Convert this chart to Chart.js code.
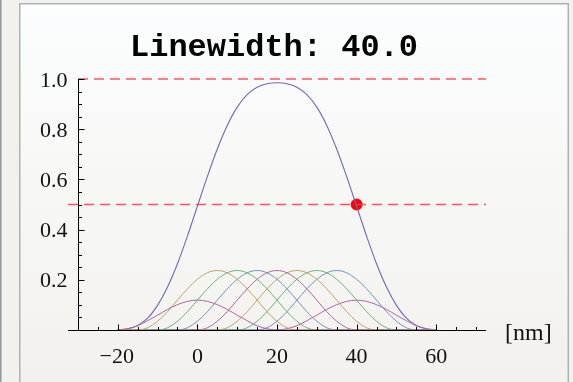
<!DOCTYPE html>
<html>
<head>
<meta charset="utf-8">
<script src="https://cdn.jsdelivr.net/npm/chart.js@4/dist/chart.umd.min.js"></script>
<style>
  html, body { margin: 0; padding: 0; background: #f2f1ed; }
  #wrap { width: 573px; height: 382px; position: relative; }
</style>
</head>
<body>
<div id="wrap"><canvas id="c" width="573" height="382"></canvas></div>
<script>
// ---------------- data ----------------
const titleText = "Linewidth: 40.0";
const xUnitLabel = "[nm]";

// sample positions (nm)
const xGrid = [-20,-17.5,-15,-12.5,-10,-7.5,-5,-2.5,0,2.5,5,7.5,10,12.5,15,17.5,20,
               22.5,25,27.5,30,32.5,35,37.5,40,42.5,45,47.5,50,52.5,55,57.5,60];

// total (normalized) line profile
const sumCurve = [0,0.005,0.018,0.047,0.098,0.171,0.264,0.374,0.493,0.611,0.721,0.815,0.888,0.938,0.967,0.981,0.985,
                  0.981,0.967,0.938,0.888,0.815,0.721,0.611,0.493,0.374,0.264,0.171,0.098,0.047,0.018,0.005,0];

// individual components (centres 0,5,...,40 nm)
const comp0  = [0,0.005,0.017,0.037,0.059,0.082,0.101,0.114,0.119,0.114,0.101,0.082,0.059,0.037,0.017,0.005,0,
                0,0,0,0,0,0,0,0,0,0,0,0,0,0,0,0];
const comp5  = [0,0,0,0.009,0.035,0.073,0.119,0.164,0.202,0.228,0.237,0.228,0.202,0.164,0.119,0.073,0.035,0.009,0,
                0,0,0,0,0,0,0,0,0,0,0,0,0,0];
const comp10 = [0,0,0,0,0,0.009,0.035,0.073,0.119,0.164,0.202,0.228,0.237,0.228,0.202,0.164,0.119,0.073,0.035,0.009,0,
                0,0,0,0,0,0,0,0,0,0,0,0];
const comp15 = [0,0,0,0,0,0,0,0.009,0.035,0.073,0.119,0.164,0.202,0.228,0.237,0.228,0.202,0.164,0.119,0.073,0.035,0.009,0,
                0,0,0,0,0,0,0,0,0,0];
const comp20 = [0,0,0,0,0,0,0,0,0,0.009,0.035,0.073,0.119,0.164,0.202,0.228,0.237,0.228,0.202,0.164,0.119,0.073,0.035,0.009,0,
                0,0,0,0,0,0,0,0];
const comp25 = [0,0,0,0,0,0,0,0,0,0,0,0.009,0.035,0.073,0.119,0.164,0.202,0.228,0.237,0.228,0.202,0.164,0.119,0.073,0.035,0.009,0,
                0,0,0,0,0,0];
const comp30 = [0,0,0,0,0,0,0,0,0,0,0,0,0,0.009,0.035,0.073,0.119,0.164,0.202,0.228,0.237,0.228,0.202,0.164,0.119,0.073,0.035,0.009,0,
                0,0,0,0];
const comp35 = [0,0,0,0,0,0,0,0,0,0,0,0,0,0,0,0.009,0.035,0.073,0.119,0.164,0.202,0.228,0.237,0.228,0.202,0.164,0.119,0.073,0.035,0.009,0,
                0,0];
const comp40 = [0,0,0,0,0,0,0,0,0,0,0,0,0,0,0,0,
                0,0.005,0.017,0.037,0.059,0.082,0.101,0.114,0.119,0.114,0.101,0.082,0.059,0.037,0.017,0.005,0];

// reference levels and marker
const levelValues = [1.0, 0.5];
const levelStart = [-30, -32.5];
const levelEnd = [72.5, 72.5];
const markerX = [40];
const markerY = [0.5];

// axes
const xMajorTicks = [-20, 0, 20, 40, 60];
const xTickLabels = ["\u221220", "0", "20", "40", "60"];
const xMinorTicks = [-25,-15,-10,-5,5,10,15,25,30,35,45,50,55,65,70];
const yMajorTicks = [0.2, 0.4, 0.6, 0.8, 1.0];
const yTickLabels = ["0.2", "0.4", "0.6", "0.8", "1.0"];
const yMinorTicks = [0.05,0.1,0.15,0.25,0.3,0.35,0.45,0.5,0.55,0.65,0.7,0.75,0.85,0.9,0.95];
const yAxisAt = -30;

// ---------------- styles ----------------
const compSeries = [comp0, comp5, comp10, comp15, comp20, comp25, comp30, comp35, comp40];
const compColors = ["#b065a8", "#c0a468", "#6ab47a", "#7092c4",
                    "#b065a8", "#c0a468", "#6ab47a", "#7092c4", "#b065a8"];

function pts(ys) { return xGrid.map((x, i) => ({ x: x, y: ys[i] })); }

const datasets = [];
compSeries.forEach((s, i) => {
  datasets.push({
    data: pts(s), borderColor: compColors[i], borderWidth: 1,
    pointRadius: 0, cubicInterpolationMode: "monotone", fill: false, clip: false
  });
});
datasets.push({
  data: pts(sumCurve), borderColor: "#6c6cbc", borderWidth: 1.1,
  pointRadius: 0, cubicInterpolationMode: "monotone", fill: false, clip: false
});
levelValues.forEach((v, i) => {
  datasets.push({
    data: [{ x: levelStart[i], y: v }, { x: levelEnd[i], y: v }], borderColor: "rgba(250,60,60,0.85)",
    borderWidth: 1.6, borderDash: [10, 6], pointRadius: 0, fill: false, clip: false
  });
});
datasets.push({
  type: "scatter",
  data: markerX.map((x, i) => ({ x: x, y: markerY[i] })),
  backgroundColor: "#ff0000", borderColor: "#ff0000", pointRadius: 5.5, clip: false
});

const decor = {
  id: "decor",
  beforeDraw(chart) {
    const ctx = chart.ctx;
    ctx.save();
    ctx.fillStyle = "#f2f1ed";
    ctx.fillRect(0, 0, 573, 382);
    ctx.fillStyle = "#8e999e";
    ctx.fillRect(0, 0, 1.5, 382);
    const g = ctx.createLinearGradient(0, 3, 0, 382);
    g.addColorStop(0, "#fcfdfe");
    g.addColorStop(1, "#f2f1ed");
    ctx.fillStyle = g;
    ctx.fillRect(20, 4, 548, 382);
    ctx.strokeStyle = "#adb3b4";
    ctx.lineWidth = 1.5;
    ctx.beginPath();
    ctx.moveTo(19.75, 390); ctx.lineTo(19.75, 3.75); ctx.lineTo(568.25, 3.75); ctx.lineTo(568.25, 390);
    ctx.stroke();
    ctx.restore();
  },
  afterDraw(chart) {
    const ctx = chart.ctx;
    const xs = chart.scales.x, ys = chart.scales.y;
    const y0 = Math.round(ys.getPixelForValue(0)) + 0.5;
    const xA = Math.round(xs.getPixelForValue(yAxisAt)) + 0.5;
    ctx.save();
    ctx.strokeStyle = "#000";
    ctx.lineWidth = 1;
    ctx.beginPath();
    ctx.moveTo(chart.chartArea.left, y0); ctx.lineTo(chart.chartArea.right, y0);
    ctx.moveTo(xA, y0); ctx.lineTo(xA, ys.getPixelForValue(1.0));
    xMajorTicks.forEach(v => { const p = Math.round(xs.getPixelForValue(v)) + 0.5; ctx.moveTo(p, y0); ctx.lineTo(p, y0 - 6); });
    xMinorTicks.forEach(v => { const p = Math.round(xs.getPixelForValue(v)) + 0.5; ctx.moveTo(p, y0); ctx.lineTo(p, y0 - 3.5); });
    yMajorTicks.forEach(v => { const p = Math.round(ys.getPixelForValue(v)) + 0.5; ctx.moveTo(xA, p); ctx.lineTo(xA + 6, p); });
    yMinorTicks.forEach(v => { const p = Math.round(ys.getPixelForValue(v)) + 0.5; ctx.moveTo(xA, p); ctx.lineTo(xA + 3.5, p); });
    ctx.stroke();

    ctx.fillStyle = "#111";
    ctx.font = '22px "Liberation Serif", "Times New Roman", serif';
    ctx.textAlign = "center";
    ctx.textBaseline = "alphabetic";
    xMajorTicks.forEach((v, i) => ctx.fillText(xTickLabels[i], xs.getPixelForValue(v) - (v < 0 ? 1 : 0), y0 + 32));
    ctx.font = '22px "Liberation Serif", "Times New Roman", serif';
    ctx.textAlign = "right";
    yMajorTicks.forEach((v, i) => ctx.fillText(yTickLabels[i], xA - 11, ys.getPixelForValue(v) + 7.5));
    ctx.font = '24px "Liberation Serif", "Times New Roman", serif';
    ctx.textAlign = "left";
    ctx.fillText(xUnitLabel, 505, 340);

    ctx.font = 'bold 32px "Courier New", "Liberation Mono", monospace';
    ctx.textAlign = "center";
    ctx.fillStyle = "#000";
    ctx.fillText(titleText, 274, 56);
    ctx.restore();
  }
};

new Chart(document.getElementById("c"), {
  type: "line",
  data: { datasets: datasets },
  options: {
    responsive: false, animation: false, devicePixelRatio: 1,
    layout: { padding: { left: 68, right: 87, top: 79, bottom: 52 } },
    plugins: { legend: { display: false }, tooltip: { enabled: false }, title: { display: false } },
    scales: {
      x: { type: "linear", min: -32.5, max: 72.5, display: false },
      y: { type: "linear", min: 0, max: 1.0, display: false }
    }
  },
  plugins: [decor]
});
</script>
</body>
</html>
